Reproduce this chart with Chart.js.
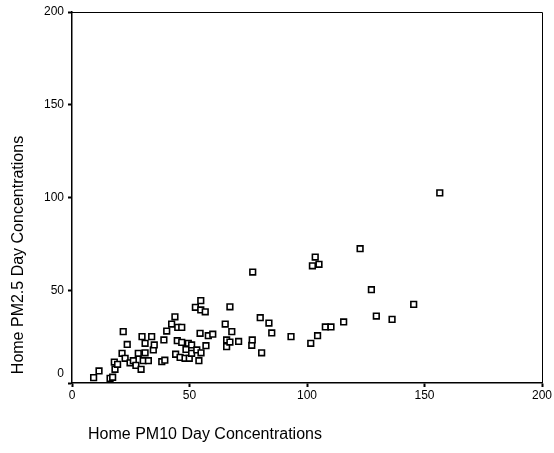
<!DOCTYPE html>
<html>
<head>
<meta charset="utf-8">
<script src="https://cdn.jsdelivr.net/npm/chart.js@4.4.0/dist/chart.umd.min.js"></script>
<style>
  html, body { margin: 0; padding: 0; background: #fff; }
  #wrap { width: 554px; height: 453px; }
</style>
</head>
<body>
<div id="wrap"><canvas id="c" width="554" height="453"></canvas></div>
<script>
// Home PM10 (x) vs Home PM2.5 (y), day concentrations
const pm10 = [
  9.2, 11.5, 16.2, 17.3, 18.3, 18.0, 19.4, 21.3, 21.8, 22.6, 23.5, 24.7,
  26.1, 27.2, 28.2, 29.4, 29.8, 30.3, 31.1, 31.1, 32.5, 33.9, 34.6, 35.0,
  38.2, 39.5, 39.1, 40.3, 42.4, 43.8, 44.1, 44.8, 45.0, 46.0, 46.7, 46.7,
  48.1, 48.5, 49.5, 49.9, 50.9, 50.9, 52.5, 53.1, 54.0, 54.5, 54.8, 54.8,
  54.9, 56.7, 57.0, 58.0, 59.9, 65.2, 65.8, 65.8, 67.2, 67.2, 68.0, 70.9,
  76.5, 76.7, 76.9, 80.1, 80.7, 83.8, 85.0, 93.2, 101.6, 102.3, 103.5, 104.5,
  105.1, 107.8, 110.2, 115.6, 122.6, 127.4, 129.5, 136.2, 145.4, 156.5
];
const pm25 = [
  2.9, 6.5, 2.5, 3.1, 7.4, 11.3, 10.1, 16.0, 27.7, 13.3, 20.8, 10.9,
  12.0, 9.5, 16.0, 7.4, 25.0, 12.0, 16.3, 21.4, 12.0, 25.0, 17.8, 20.5,
  11.5, 12.3, 23.2, 28.0, 31.8, 35.7, 15.5, 22.8, 30.0, 13.8, 30.0, 21.9,
  13.3, 18.1, 21.4, 13.3, 20.5, 16.0, 40.8, 17.8, 12.0, 26.8, 44.4, 39.4,
  16.3, 38.4, 20.1, 25.5, 26.3, 31.8, 23.2, 19.6, 41.1, 22.1, 27.7, 22.4,
  20.3, 23.2, 59.8, 35.2, 16.3, 32.3, 27.0, 25.0, 21.4, 63.2, 67.9, 25.5,
  64.0, 30.2, 30.2, 32.9, 72.4, 50.3, 36.1, 34.3, 42.4, 102.5
];
const xTicks = [0, 50, 100, 150, 200];
const yTicks = [0, 50, 100, 150, 200];
const xTitle = 'Home PM10 Day Concentrations';
const yTitle = 'Home PM2.5 Day Concentrations';

const points = pm10.map((x, i) => ({ x: x, y: pm25[i] }));
const FONT = '"Liberation Sans", Arial, Helvetica, sans-serif';

const decor = {
  id: 'decor',
  afterDraw(chart) {
    const { ctx, chartArea: a, scales } = chart;
    ctx.save();
    // frame top/right
    ctx.strokeStyle = '#000';
    ctx.lineWidth = 1;
    ctx.beginPath();
    ctx.moveTo(a.left, a.top + 0.5);
    ctx.lineTo(a.right + 0.5, a.top + 0.5);
    ctx.lineTo(a.right + 0.5, a.bottom);
    ctx.stroke();
    // shifted y "0" label
    ctx.fillStyle = '#000';
    ctx.font = '12px ' + FONT;
    ctx.textAlign = 'right';
    ctx.textBaseline = 'middle';
    ctx.fillText(String(yTicks[0]), a.left - 8, scales.y.getPixelForValue(yTicks[0]) - 9);
    // axis titles
    ctx.font = '16px ' + FONT;
    ctx.textAlign = 'center';
    ctx.textBaseline = 'middle';
    ctx.fillText(xTitle, 205, 435);
    ctx.translate(19, 255);
    ctx.rotate(-Math.PI / 2);
    ctx.fillText(yTitle, 0, 0);
    ctx.restore();
  }
};

new Chart(document.getElementById('c'), {
  type: 'scatter',
  data: {
    datasets: [{
      data: points,
      pointStyle: 'rect',
      pointRadius: 4,
      pointHoverRadius: 4,
      pointBorderWidth: 1.6,
      pointBorderColor: '#000',
      pointBackgroundColor: '#fff'
    }]
  },
  options: {
    responsive: false,
    animation: false,
    events: [],
    layout: { padding: { top: 12, right: 12, left: 0, bottom: 0 } },
    plugins: { legend: { display: false }, tooltip: { enabled: false } },
    scales: {
      x: {
        type: 'linear',
        min: 0, max: 200,
        afterBuildTicks: s => { s.ticks = xTicks.map(v => ({ value: v })); },
        afterFit: s => { s.height = 70; },
        border: { display: true, color: '#000', width: 1.5 },
        grid: { drawOnChartArea: false, drawTicks: true, tickLength: 4, color: '#000', tickColor: '#000', tickWidth: 2 },
        ticks: { color: '#000', font: { family: FONT, size: 12 }, padding: 1, maxRotation: 0 }
      },
      y: {
        type: 'linear',
        min: 0, max: 200,
        afterBuildTicks: s => { s.ticks = yTicks.map(v => ({ value: v })); },
        afterFit: s => { s.width = 72; },
        border: { display: true, color: '#000', width: 1.5 },
        grid: { drawOnChartArea: false, drawTicks: true, tickLength: 4, color: '#000', tickColor: '#000', tickWidth: 2 },
        ticks: {
          color: '#000', font: { family: FONT, size: 12 }, padding: 4,
          callback: v => (v === yTicks[0] ? '' : String(v))
        }
      }
    }
  },
  plugins: [decor]
});
</script>
</body>
</html>
